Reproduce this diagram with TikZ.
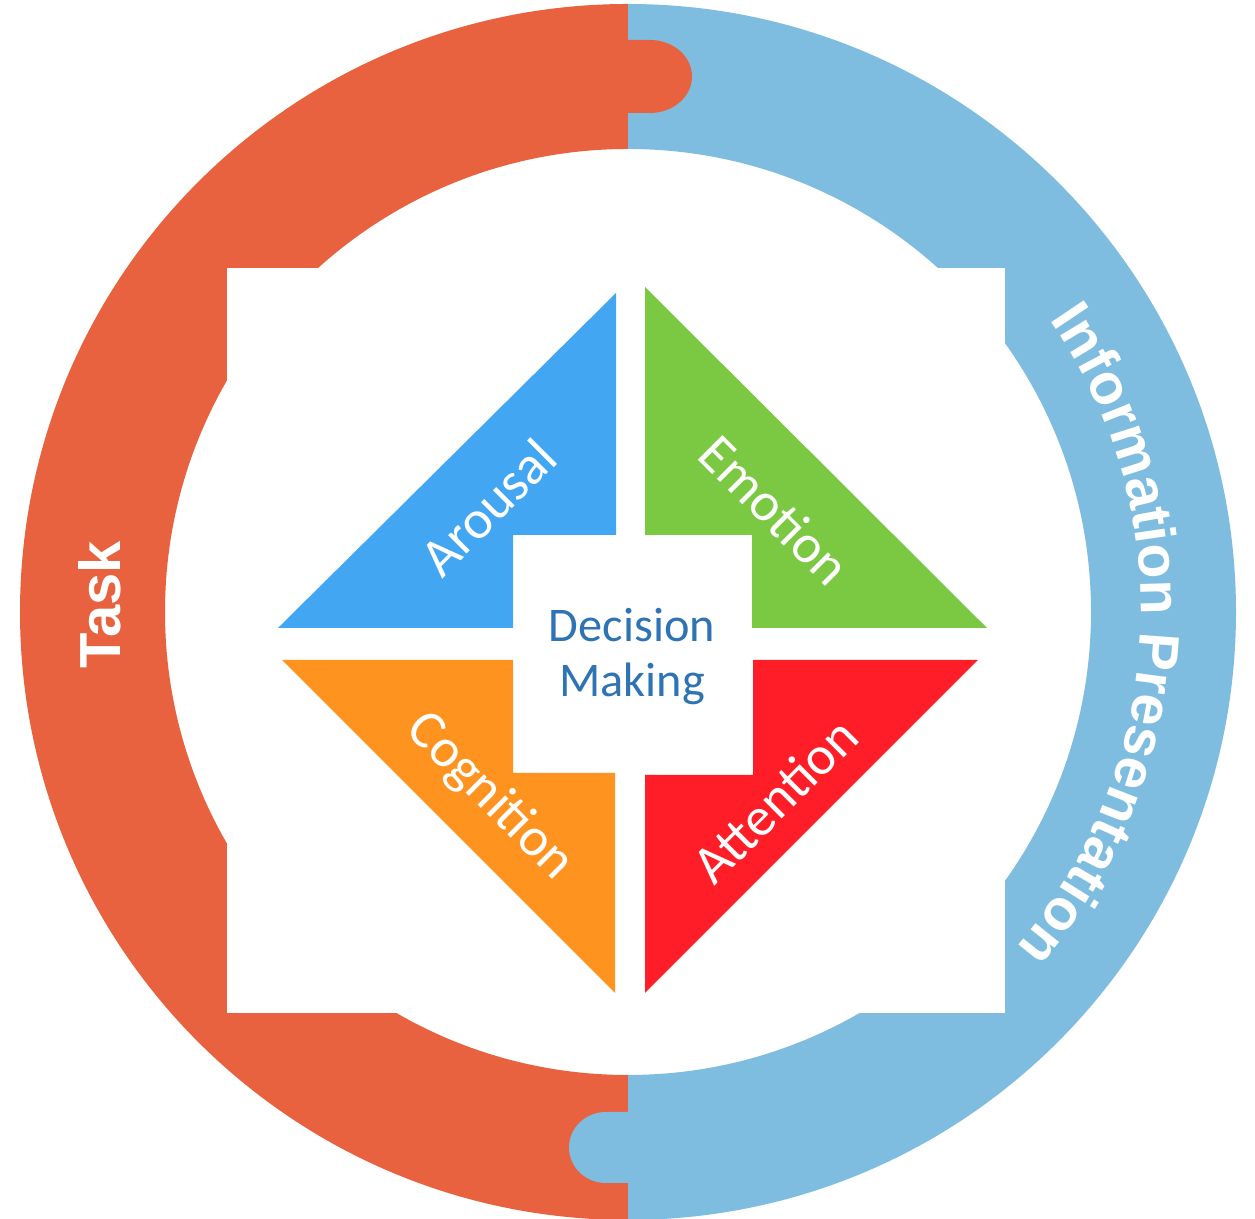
\documentclass[tikz,border=0pt]{standalone}
\usepackage{fontspec}
\usetikzlibrary{decorations.text}
\newfontfamily\lsans{Liberation Sans}
\newfontfamily\calib{Carlito}
\definecolor{ringred}{RGB}{232,98,63}
\definecolor{ringblue}{RGB}{126,189,224}
\definecolor{arousalc}{RGB}{66,166,242}
\definecolor{emotionc}{RGB}{123,201,67}
\definecolor{cognitionc}{RGB}{255,147,31}
\definecolor{attentionc}{RGB}{255,30,39}
\definecolor{dmtext}{RGB}{46,116,181}
\newcommand\infofont{\lsans\bfseries\fontsize{32.5}{36}\selectfont}
\tikzset{
  ringlabel/.style={text=white,font=\lsans\bfseries\fontsize{33}{36}\selectfont,inner sep=0pt},
  trilabel/.style={text=white,font=\calib\fontsize{31}{34}\selectfont,inner sep=0pt},
  dmlabel/.style={text=dmtext,font=\calib\fontsize{27.5}{31}\selectfont,inner sep=0pt,anchor=base}
}
\begin{document}
\begin{tikzpicture}[x=0.02cm,y=0.02cm]
\useasboundingbox (0,0) rectangle (1255,1219);
\coordinate (c) at (628,607);
% ring halves
\fill[ringred] (628,1215) arc[start angle=90,end angle=270,radius=608] -- (628,144) arc[start angle=270,end angle=90,radius=463] -- cycle;
\fill[ringblue] (628,1215) arc[start angle=90,end angle=-90,radius=608] -- (628,144) arc[start angle=-90,end angle=90,radius=463] -- cycle;
% puzzle knobs
\fill[ringred] (620,1179) -- (650,1179) arc[start angle=90,end angle=-90,x radius=42,y radius=36.5] -- (620,1106) -- cycle;
\fill[ringblue] (636,107) -- (606,107) arc[start angle=90,end angle=270,x radius=37,y radius=35.5] -- (636,36) -- cycle;
% white panel
\fill[white] (227,206) rectangle (1005,951);
% triangles
\fill[arousalc] (278,591) -- (616,926) -- (616,684) -- (513,684) -- (513,591) -- cycle;
\fill[emotionc] (645,932) -- (645,684) -- (752,684) -- (752,591) -- (987,591) -- cycle;
\fill[cognitionc] (282,559) -- (513,559) -- (513,446) -- (615,446) -- (615,226) -- cycle;
\fill[attentionc] (753,559) -- (978,559) -- (645,226) -- (645,444) -- (753,444) -- cycle;
% labels
\node[trilabel,rotate=45] (arousal) at (488,712) {Arousal};
\node[trilabel,rotate=-45] (emotion) at (775,709) {Emotion};
\node[trilabel,rotate=-45] (cognition) at (490,422) {Cognition};
\node[trilabel,rotate=45] (attention) at (775,419) {Attention};
\node[dmlabel] (decision) at (632,577) {Decision};
\node[dmlabel] (making) at (632,522) {Making};
\node[ringlabel,rotate=90] (task) at (100,614) {Task};
\path[decorate,decoration={text along path,text={|\infofont|Information Presentation},text color=white,text align=center}]
  (c) ++(37:513) arc[start angle=37,end angle=-43,radius=513];
\end{tikzpicture}
\end{document}
